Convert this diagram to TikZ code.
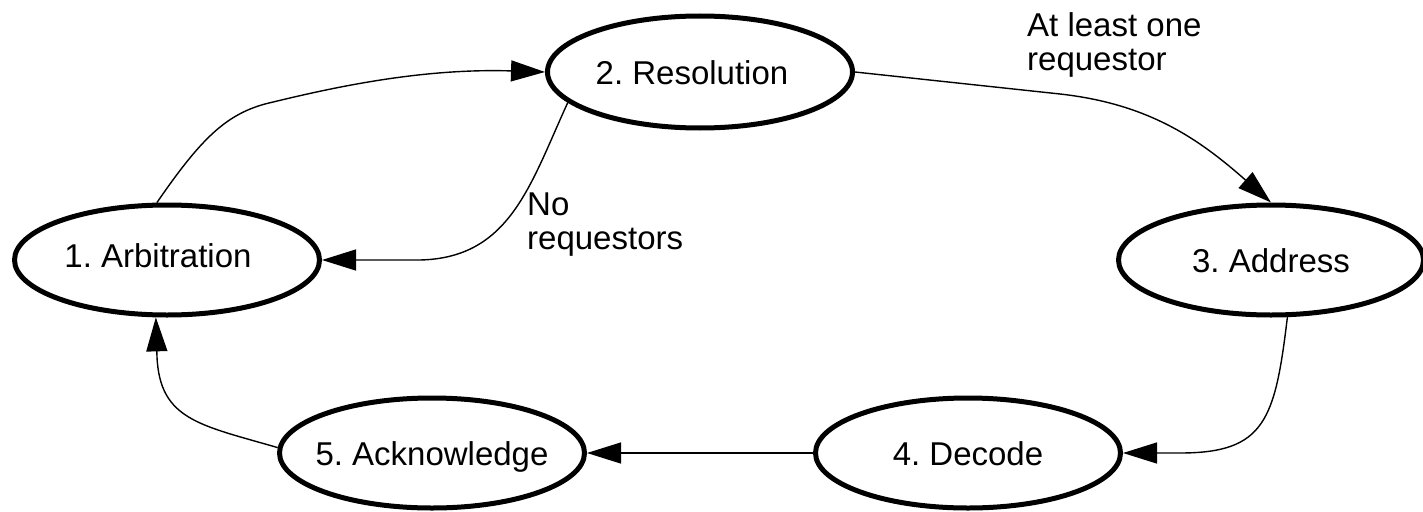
\documentclass[tikz,border=0pt]{standalone}
\usepackage{fontspec}
\setmainfont{Liberation Sans}
\usetikzlibrary{shapes.geometric,arrows.meta}
\begin{document}
\frenchspacing
\begin{tikzpicture}[x=1pt,y=-1pt,
  state/.style={draw, ellipse, line width=5pt, minimum width=305pt, minimum height=110pt,
    inner sep=0pt, text height=24pt, text depth=0pt, font=\fontsize{33}{34}\selectfont},
  conn/.style={line width=1.4pt, -{Triangle[length=34pt,width=21pt]}},
  lbl/.style={font=\fontsize{33}{34}\selectfont, align=left, anchor=north west, inner sep=0pt}]
\useasboundingbox (0,0) rectangle (1423,511);
\node[state] (arb) at (167,260) {\makebox[0pt]{\raisebox{5pt}{1. Arbitration}\hspace{18pt}}};
\node[state, minimum height=112pt] (res) at (700,72) {\makebox[0pt]{2. Resolution\hspace{16pt}}};
\node[state] (addr) at (1271,260) {\makebox[0pt]{3. Address}};
\node[state] (dec) at (968,453) {\makebox[0pt]{4. Decode}};
\node[state] (ack) at (432,453) {\makebox[0pt]{5. Acknowledge}};
\node[lbl] (lno) at (527,193) {No\\requestors};
\node[lbl] (lone) at (1027,12) {At least one\\requestor};
\draw[conn] (arb.100) .. controls (200,140) and (225,115) .. (265,104)
  .. controls (330,88) and (420,68) .. (res.west);
\draw[conn] (res.193) .. controls (530,185) and (510,258) .. (420,260) -- (arb.east);
\draw[conn] (res.east) -- (1060,94) .. controls (1150,104) and (1200,140) .. (addr.north);
\draw[conn] (addr.286) .. controls (1275,420) and (1265,453) .. (1180,453) -- (dec.east);
\draw[conn] (dec.west) -- (ack.east);
\draw[conn] (ack.178) .. controls (200,425) and (160,420) .. (157,357) -- (arb.259);
\end{tikzpicture}
\end{document}
